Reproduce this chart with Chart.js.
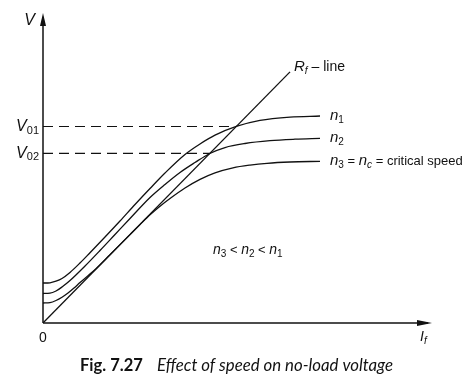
<!DOCTYPE html>
<html><head><meta charset="utf-8">
<script src="https://cdn.jsdelivr.net/npm/chart.js@4.4.0/dist/chart.umd.min.js"></script>
<style>html,body{margin:0;padding:0;background:#fff}</style>
</head><body>
<canvas id="c" width="470" height="388"></canvas>
<script>
// Data (arbitrary units: x = field current If, y = voltage V)
const rfLineX = [0, 63.5];
const rfLineY = [0, 81.0];
const n1X = [0, 1.80, 3.34, 4.88, 6.94, 9.51, 12.08, 15.94, 19.79, 23.65, 27.51, 31.36, 36.50, 40.36, 44.22, 49.69, 55.78, 63.50, 71.21];
const n1Y = [12.90, 12.97, 13.48, 14.35, 16.29, 19.35, 22.68, 27.74, 32.90, 38.23, 43.39, 48.39, 54.35, 57.74, 60.58, 63.39, 65.35, 66.42, 66.77];
const n2X = [0, 1.80, 3.34, 4.88, 6.94, 10.80, 14.65, 18.51, 22.37, 27.51, 31.36, 35.22, 39.07, 42.88, 46.79, 51.93, 58.35, 64.78, 71.21];
const n2Y = [9.52, 9.61, 10.32, 11.61, 13.71, 18.39, 23.39, 28.55, 33.71, 40.48, 44.68, 48.55, 51.77, 54.69, 56.61, 57.90, 58.81, 59.29, 59.58];
const n3X = [0, 1.80, 3.34, 4.88, 6.43, 7.97, 9.51, 11.57, 13.62, 17.22, 22.37, 24.94, 27.51, 30.08, 32.65, 36.50, 40.36, 44.22, 48.84, 53.21, 57.58, 63.50, 71.21];
const n3Y = [6.45, 6.58, 7.26, 8.32, 9.68, 11.29, 13.06, 15.26, 17.52, 22.03, 28.52, 31.74, 34.90, 37.68, 40.16, 43.55, 46.35, 48.45, 50.06, 50.94, 51.52, 51.94, 52.16];
const v01 = 63.39, v02 = 54.69;
const v01X = [0, 49.69];
const v02X = [0, 42.88];

const pts = (xs, ys) => xs.map((x, i) => ({x, y: ys[i]}));
const black = '#111';
const curve = (xs, ys) => ({data: pts(xs, ys), borderColor: black, borderWidth: 1.3, pointRadius: 0, cubicInterpolationMode: 'monotone', fill: false});

function rich(ctx, segs, x, y, align) {
  let total = 0;
  segs.forEach(s => { ctx.font = s[2] + ' ' + s[1] + 'px "Liberation Sans", Arial, sans-serif'; total += ctx.measureText(s[0]).width; });
  let cx = align === 'center' ? x - total / 2 : (align === 'right' ? x - total : x);
  ctx.textAlign = 'left'; ctx.textBaseline = 'middle';
  segs.forEach(s => {
    ctx.font = s[2] + ' ' + s[1] + 'px "Liberation Sans", Arial, sans-serif';
    ctx.fillText(s[0], cx, y + (s[3] || 0));
    cx += ctx.measureText(s[0]).width;
  });
}

const deco = {
  id: 'deco',
  afterDraw(chart) {
    const {ctx, chartArea: a, scales: {x, y}} = chart;
    ctx.save();
    ctx.fillStyle = black; ctx.strokeStyle = black;
    const ox = x.getPixelForValue(0), oy = y.getPixelForValue(0);
    ctx.lineWidth = 1.5;
    ctx.beginPath(); ctx.moveTo(ox, oy); ctx.lineTo(ox, a.top + 4); ctx.stroke();
    ctx.beginPath(); ctx.moveTo(ox, oy); ctx.lineTo(a.right - 4, oy); ctx.stroke();
    ctx.beginPath(); ctx.moveTo(ox, a.top); ctx.lineTo(ox - 3, a.top + 13); ctx.lineTo(ox + 3, a.top + 13); ctx.closePath(); ctx.fill();
    ctx.beginPath(); ctx.moveTo(a.right, oy); ctx.lineTo(a.right - 15, oy - 3); ctx.lineTo(a.right - 15, oy + 3); ctx.closePath(); ctx.fill();
    rich(ctx, [['V', 16, 'italic']], ox - 8, a.top + 8, 'right');
    rich(ctx, [['I', 14, 'italic'], ['f', 10, 'italic', 4]], a.right - 12, oy + 14, 'left');
    rich(ctx, [['0', 14, 'normal']], ox, oy + 15, 'center');
    rich(ctx, [['V', 16, 'italic'], ['01', 11, 'normal', 4]], ox - 4, y.getPixelForValue(v01), 'right');
    rich(ctx, [['V', 16, 'italic'], ['02', 11, 'normal', 4]], ox - 4, y.getPixelForValue(v02), 'right');
    const ex = x.getPixelForValue(n1X[n1X.length - 1]) + 10;
    rich(ctx, [['n', 15, 'italic'], ['1', 10, 'normal', 4]], ex, y.getPixelForValue(n1Y[n1Y.length - 1]), 'left');
    rich(ctx, [['n', 15, 'italic'], ['2', 10, 'normal', 4]], ex, y.getPixelForValue(n2Y[n2Y.length - 1]), 'left');
    rich(ctx, [['n', 15, 'italic'], ['3', 10, 'normal', 4], [' = ', 13, 'normal'], ['n', 15, 'italic'], ['c', 10, 'italic', 4], [' = critical speed', 13, 'normal']], ex, y.getPixelForValue(n3Y[n3Y.length - 1]), 'left');
    rich(ctx, [['R', 15, 'italic'], ['f', 10, 'italic', 4], [' \u2013 line', 14, 'normal']], x.getPixelForValue(rfLineX[1]) + 4, y.getPixelForValue(rfLineY[1]) - 5, 'left');
    rich(ctx, [['n', 14, 'italic'], ['3', 10, 'normal', 4], [' < ', 13, 'normal'], ['n', 14, 'italic'], ['2', 10, 'normal', 4], [' < ', 13, 'normal'], ['n', 14, 'italic'], ['1', 10, 'normal', 4]], 213, 250, 'left');
    ctx.textBaseline = 'middle'; ctx.textAlign = 'left';
    ctx.font = 'bold 16.5px Lato, "Open Sans", sans-serif';
    ctx.fillText('Fig. 7.27', 80, 366);
    ctx.font = 'italic 16.8px Lato, "Open Sans", sans-serif';
    ctx.fillText('Effect of speed on no-load voltage', 157, 366);
    ctx.restore();
  }
};

new Chart(document.getElementById('c'), {
  type: 'line',
  data: {
    datasets: [
      {data: pts(rfLineX, rfLineY), borderColor: black, borderWidth: 1.3, pointRadius: 0, tension: 0},
      curve(n1X, n1Y), curve(n2X, n2Y), curve(n3X, n3Y),
      {data: pts(v01X, [v01, v01]), borderColor: black, borderWidth: 1.2, borderDash: [10, 6], pointRadius: 0},
      {data: pts(v02X, [v02, v02]), borderColor: black, borderWidth: 1.2, borderDash: [10, 6], pointRadius: 0}
    ]
  },
  options: {
    responsive: false, animation: false, events: [],
    layout: {padding: {left: 43, top: 13, right: 38, bottom: 65}},
    plugins: {legend: {display: false}, tooltip: {enabled: false}},
    scales: {
      x: {type: 'linear', min: 0, max: 100, display: true, grid: {display: false}, border: {display: false}, ticks: {display: false}, afterFit: s => { s.height = 0; }},
      y: {type: 'linear', min: 0, max: 100, display: true, grid: {display: false}, border: {display: false}, ticks: {display: false}, afterFit: s => { s.width = 0; }}
    }
  },
  plugins: [deco]
});
</script>
</body></html>
